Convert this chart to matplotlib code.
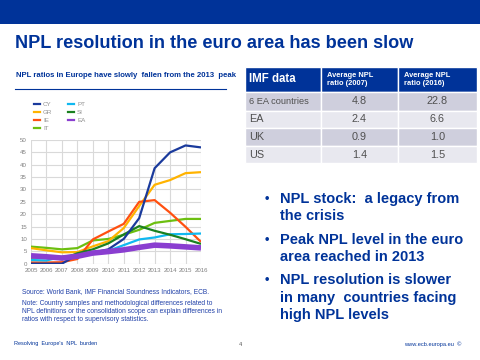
import matplotlib
matplotlib.use("Agg")
import matplotlib.pyplot as plt
from matplotlib.patches import Rectangle
import numpy as np

years = list(range(2005, 2017))
series_names = ["CY", "GR", "IE", "IT", "PT", "SI", "EA"]
cy = [0.0, 0.0, 0.0, 3.6, 4.5, 5.8, 10.0, 18.4, 38.6, 45.0, 47.8, 47.0]
gr = [6.3, 5.4, 4.6, 4.7, 7.0, 9.1, 14.4, 23.3, 31.9, 33.8, 36.6, 37.0]
ie = [0.5, 0.5, 0.6, 1.9, 9.8, 13.0, 16.1, 25.0, 25.7, 20.6, 14.9, 8.8]
it = [6.9, 6.4, 5.8, 6.3, 9.4, 10.0, 11.7, 13.7, 16.5, 17.3, 18.1, 18.1]
pt = [1.5, 1.3, 2.8, 3.6, 4.8, 5.2, 7.5, 9.8, 10.6, 11.9, 12.0, 12.2]
si = [2.5, 2.5, 1.8, 4.2, 5.8, 8.2, 11.8, 15.2, 13.3, 11.7, 9.9, 8.0]
ea = [3.2, 2.8, 2.3, 3.0, 4.3, 4.9, 5.6, 6.6, 7.5, 7.2, 6.8, 6.4]
y_ticks = [0, 5, 10, 15, 20, 25, 30, 35, 40, 45, 50]

table_header = ["IMF data", "Average NPL\nratio (2007)", "Average NPL\nratio (2016)"]
table_rows = ["6 EA countries", "EA", "UK", "US"]
table_2007 = ["4.8", "2.4", "0.9", "1.4"]
table_2016 = ["22.8", "6.6", "1.0", "1.5"]

bullets = [["NPL stock:  a legacy from", "the crisis"],
           ["Peak NPL level in the euro", "area reached in 2013"],
           ["NPL resolution is slower", "in many  countries facing", "high NPL levels"]]

DARK = "#003399"
W, H = 480, 360
fig = plt.figure(figsize=(4.8, 3.6), dpi=100)
fig.patch.set_facecolor("white")

def fx(x): return x / W
def fy(y): return 1 - y / H

# overlay axes in pixel coords
ov = fig.add_axes([0, 0, 1, 1])
ov.set_xlim(0, W); ov.set_ylim(H, 0); ov.axis("off")

ov.add_patch(Rectangle((0, 0), W, 24, color=DARK, lw=0))
ov.text(15, 43, "NPL resolution in the euro area has been slow", fontsize=13.1,
        fontweight="bold", color=DARK, family="Liberation Sans", va="center", ha="left")

ov.text(16, 75.5, "NPL ratios in Europe have slowly  fallen from the 2013  peak", fontsize=5.6,
        fontweight="bold", color=DARK, family="Liberation Sans", va="center", ha="left")
ov.plot([15, 226], [89.3, 89.3], color=DARK, lw=0.8)

# chart
colors = ["#1a3a9c", "#ffb300", "#ff5010", "#6cbf10", "#10b8f0", "#1a8020", "#8a3ed0"]
data = [cy, gr, ie, it, pt, si, ea]
ax = fig.add_axes([fx(31), fy(263.7), 170 / W, 123.7 / H])
order = [3, 1, 2, 4, 5, 0, 6]
for i in order:
    ax.plot(years, data[i], color=colors[i], lw=4.0 if series_names[i] == "EA" else 1.6,
            solid_capstyle="butt", zorder=3)
ax.set_xlim(2005, 2016)
ax.set_ylim(0, 50)
ax.set_xticks(years)
ax.set_xticklabels([str(y) for y in years])
ax.set_yticks(y_ticks)
ax.grid(True, color="#d9d9d9", lw=0.8)
for s in ax.spines.values():
    s.set_visible(False)
ax.tick_params(length=0, labelsize=4.4, labelcolor="#808080", pad=3)
for lab in ax.get_xticklabels() + ax.get_yticklabels():
    lab.set_family("Liberation Sans")

# legend
leg_pos = [(34, 104), (34, 112.3), (34, 120), (34, 128), (68, 104), (68, 112.3), (68, 120)]
for i, (lx, ly) in enumerate(leg_pos):
    ov.plot([lx, lx + 6], [ly, ly], color=colors[i], lw=1.6)
    ov.text(lx + 9, ly, series_names[i], fontsize=4.5, color="#909090",
            family="Liberation Sans", va="center", ha="left")

# source / note
src_col = "#2040a8"
ov.text(22, 292, "Source: World Bank, IMF Financial Soundness Indicators, ECB.", fontsize=4.8,
        color=src_col, family="Liberation Sans", va="center")
for k, line in enumerate(["Note: Country samples and methodological differences related to",
                          "NPL definitions or the consolidation scope can explain differences in",
                          "ratios with respect to supervisory statistics."]):
    ov.text(22, 303.5 + k * 8, line, fontsize=4.8, color=src_col,
            family="Liberation Sans", va="center")

# footer
ov.text(14, 343.5, "Resolving  Europe's  NPL  burden", fontsize=4.0, color=DARK,
        family="Liberation Sans", va="center")
ov.text(239, 344, "4", fontsize=4.0, color="#555555", family="Liberation Sans", va="center")
ov.text(404, 344, "www.ecb.europa.eu  \u00a9", fontsize=4.1, color=DARK,
        family="Liberation Sans", va="center")

# table
cols_x = [244.7, 320.7, 398.0, 476.7]
rows_y = [66.7, 92.3, 110.7, 128.3, 146.0, 163.3]
row_bg = ["#cfcfdd", "#e8e8ef", "#cfcfdd", "#e8e8ef"]
for c in range(3):
    ov.add_patch(Rectangle((cols_x[c], rows_y[0]), cols_x[c + 1] - cols_x[c],
                           rows_y[1] - rows_y[0], facecolor=DARK, edgecolor="white", lw=1.0))
for r in range(4):
    for c in range(3):
        ov.add_patch(Rectangle((cols_x[c], rows_y[r + 1]), cols_x[c + 1] - cols_x[c],
                               rows_y[r + 2] - rows_y[r + 1], facecolor=row_bg[r],
                               edgecolor="white", lw=1.0))
hy = (rows_y[0] + rows_y[1]) / 2
ov.text(cols_x[0] + 4, hy, table_header[0], fontsize=8.3, fontweight="bold", color="white",
        family="Liberation Sans", va="center")
for c in (1, 2):
    ov.text(cols_x[c] + 6, hy, table_header[c], fontsize=5.4, fontweight="bold", color="white",
            family="Liberation Sans", va="center", linespacing=1.3)
txt_col = "#505050"
for r in range(4):
    cy_ = (rows_y[r + 1] + rows_y[r + 2]) / 2
    ov.text(cols_x[0] + 4, cy_, table_rows[r], fontsize=6.7 if r == 0 else 7.8, color=txt_col,
            family="Liberation Sans", va="center")
    ov.text((cols_x[1] + cols_x[2]) / 2, cy_, table_2007[r], fontsize=7.8, color=txt_col,
            family="Liberation Sans", va="center", ha="center")
    ov.text((cols_x[2] + cols_x[3]) / 2, cy_, table_2016[r], fontsize=7.8, color=txt_col,
            family="Liberation Sans", va="center", ha="center")

# bullets
bullet_y = [[199, 216], [240, 257], [280, 298, 315]]
for group, ys in zip(bullets, bullet_y):
    ov.text(265, ys[0], "\u2022", fontsize=9, fontweight="bold", color=DARK,
            family="Liberation Sans", va="center")
    for line, yy in zip(group, ys):
        ov.text(280, yy, line, fontsize=10.5, fontweight="bold", color=DARK,
                family="Liberation Sans", va="center")

fig.savefig("out.png", dpi=100)
